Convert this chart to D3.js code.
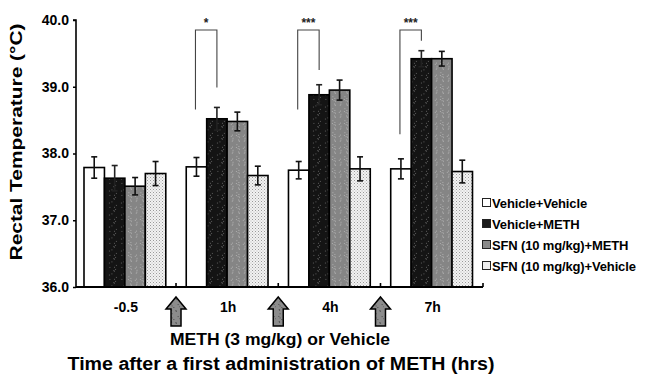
<!DOCTYPE html>
<html><head><meta charset="utf-8">
<script src="https://cdn.jsdelivr.net/npm/d3@7"></script>
<style>body{margin:0;background:#fff}svg{display:block}text{font-family:"Liberation Sans",Arial,sans-serif}</style>
</head><body>
<svg id="c" width="649" height="377"></svg>
<script>
const groups = ["-0.5", "1h", "4h", "7h"];
const seriesNames = ["Vehicle+Vehicle", "Vehicle+METH", "SFN (10 mg/kg)+METH", "SFN (10 mg/kg)+Vehicle"];
const vehVeh = [37.79, 37.80, 37.75, 37.77];
const vehMeth = [37.63, 38.52, 38.88, 39.42];
const sfnMeth = [37.51, 38.48, 38.95, 39.42];
const sfnVeh = [37.70, 37.67, 37.77, 37.73];
const vehVehErr = [0.16, 0.14, 0.13, 0.15];
const vehMethErr = [0.19, 0.17, 0.15, 0.12];
const sfnMethErr = [0.13, 0.14, 0.15, 0.11];
const sfnVehErr = [0.18, 0.14, 0.18, 0.17];
const yTicks = [36, 37, 38, 39, 40];
// significance brackets: group, left end, right end, top (°C), label
const sigGroups = ["1h", "4h", "7h"];
const sigLeft = [38.66, 38.66, 38.29];
const sigRight = [38.99, 39.25, 39.69];
const sigTop = [39.85, 39.85, 39.85];
const sigLabels = ["*", "***", "***"];

const means = [vehVeh, vehMeth, sfnMeth, sfnVeh];
const errs = [vehVehErr, vehMethErr, sfnMethErr, sfnVehErr];

const svg = d3.select("#c");
const defs = svg.append("defs");
function speckle(id, bg, dot, n, seedA) {
  const p = defs.append("pattern").attr("id", id).attr("patternUnits", "userSpaceOnUse").attr("width", 12).attr("height", 12);
  p.append("rect").attr("width", 12).attr("height", 12).attr("fill", bg);
  let s = seedA;
  for (let i = 0; i < n; i++) {
    s = (s * 9301 + 49297) % 233280; const x = (s / 233280) * 12;
    s = (s * 9301 + 49297) % 233280; const yy = (s / 233280) * 12;
    p.append("rect").attr("x", x).attr("y", yy).attr("width", 1).attr("height", 1).attr("fill", dot);
  }
}
speckle("pBlack", "#141414", "#5a5a5a", 8, 7);
speckle("pGray", "#858585", "#b0b0b0", 14, 3);
const pd = defs.append("pattern").attr("id", "pDots").attr("patternUnits", "userSpaceOnUse").attr("width", 3).attr("height", 3);
pd.append("rect").attr("width", 3).attr("height", 3).attr("fill", "#f2f2f2");
pd.append("rect").attr("x", 0).attr("y", 0).attr("width", 1).attr("height", 1).attr("fill", "#9a9a9a");
pd.append("rect").attr("x", 1.5).attr("y", 1.5).attr("width", 1).attr("height", 1).attr("fill", "#b8b8b8");
speckle("pArrow", "#8c8c8c", "#4a4a4a", 10, 11);

const fills = ["#ffffff", "url(#pBlack)", "url(#pGray)", "url(#pDots)"];
const legendFills = ["#ffffff", "#1a1a1a", "#8a8a8a", "#eeeeee"];

const axisX0 = 76, axisX1 = 483;
const y = d3.scaleLinear().domain([36, 40]).range([287, 20]);
const x0 = d3.scaleBand().domain(groups).range([84, 472.5]).paddingInner(0.2).paddingOuter(0);
const x1 = d3.scaleBand().domain(d3.range(4)).range([0, x0.bandwidth()]);

groups.forEach((g, gi) => {
  d3.range(4).forEach(si => {
    const v = means[si][gi];
    svg.append("rect")
      .attr("x", x0(g) + x1(si)).attr("y", y(v))
      .attr("width", x1.bandwidth()).attr("height", y(36) - y(v))
      .attr("fill", fills[si]).attr("stroke", "#000").attr("stroke-width", 1.6);
  });
});
groups.forEach((g, gi) => {
  d3.range(4).forEach(si => {
    const v = means[si][gi], e = errs[si][gi];
    const cx = x0(g) + x1(si) + x1.bandwidth() / 2;
    const eg = svg.append("g").attr("stroke", si === 1 ? "#222" : "#111").attr("stroke-width", 1.6);
    eg.append("line").attr("x1", cx).attr("x2", cx).attr("y1", y(v + e)).attr("y2", y(v - e));
    eg.append("line").attr("x1", cx - 3).attr("x2", cx + 3).attr("y1", y(v + e)).attr("y2", y(v + e));
    eg.append("line").attr("x1", cx - 3).attr("x2", cx + 3).attr("y1", y(v - e)).attr("y2", y(v - e));
  });
});

const yAxis = d3.axisLeft(y).tickValues(yTicks).tickFormat(d3.format(".1f")).tickSize(3).tickPadding(4);
const ya = svg.append("g").attr("transform", `translate(${axisX0},0)`).call(yAxis);
ya.select(".domain").attr("stroke-width", 1.6).attr("d", `M-3,${y(40)}H0V${y(36)}`);
ya.selectAll(".tick line").attr("stroke-width", 1.5);
ya.selectAll(".tick text").attr("font-size", 14).attr("font-weight", "bold").attr("fill", "#000").attr("font-family", "Liberation Sans, Arial, sans-serif");
svg.append("line").attr("x1", axisX0).attr("x2", axisX1).attr("y1", y(36)).attr("y2", y(36)).attr("stroke", "#000").attr("stroke-width", 2);
const betweens = groups.slice(1).map((g, i) => (x0(groups[i]) + x0.bandwidth() + x0(g)) / 2);
betweens.concat([axisX1]).forEach(bx => {
  svg.append("line").attr("x1", bx).attr("x2", bx).attr("y1", y(36)).attr("y2", y(36) - 4).attr("stroke", "#000").attr("stroke-width", 1.6);
});
groups.forEach(g => {
  svg.append("text").attr("x", x0(g) + x0.bandwidth() / 2 + 1).attr("y", 312)
    .attr("text-anchor", "middle").attr("font-size", 14).attr("font-weight", "bold").text(g);
});
betweens.forEach(bx => {
  const top = 297, headB = 309, bot = 326;
  const pts = [[bx, top], [bx + 10, headB], [bx + 5, headB], [bx + 5, bot], [bx - 5, bot], [bx - 5, headB], [bx - 10, headB]];
  svg.append("polygon").attr("points", pts.map(p => p.join(",")).join(" "))
    .attr("fill", "url(#pArrow)").attr("stroke", "#000").attr("stroke-width", 1.5).attr("stroke-linejoin", "miter");
});

sigGroups.forEach((g, i) => {
  const lx = x0(g) + x1(0) + x1.bandwidth() / 2 - 1;
  const rx = x0(g) + x1(1) + x1.bandwidth() / 2;
  svg.append("path").attr("d", `M${lx},${y(sigLeft[i])}V${y(sigTop[i])}H${rx}V${y(sigRight[i])}`)
    .attr("fill", "none").attr("stroke", "#444").attr("stroke-width", 1.1);
  svg.append("text").attr("x", (lx + rx) / 2).attr("y", 27).attr("text-anchor", "middle")
    .attr("font-size", 12).attr("font-weight", "bold").attr("fill", "#222").text(sigLabels[i]);
});

const legY = [203, 224, 245, 266];
seriesNames.forEach((n, i) => {
  svg.append("rect").attr("x", 482.5).attr("y", legY[i] - 4.5).attr("width", 8).attr("height", 8)
    .attr("fill", legendFills[i]).attr("stroke", "#222").attr("stroke-width", 1);
  svg.append("text").attr("x", 492).attr("y", legY[i] + 4.5).attr("font-size", 13).attr("font-weight", "bold")
    .attr("letter-spacing", -0.15).text(n);
});

svg.append("text").attr("transform", `translate(22,142) rotate(-90)`).attr("text-anchor", "middle")
  .attr("font-size", 17).attr("font-weight", "bold").attr("textLength", 237).attr("lengthAdjust", "spacingAndGlyphs")
  .text("Rectal Temperature (°C)");
svg.append("text").attr("x", 280).attr("y", 345).attr("text-anchor", "middle")
  .attr("font-size", 16).attr("font-weight", "bold").attr("textLength", 220).attr("lengthAdjust", "spacingAndGlyphs")
  .text("METH (3 mg/kg) or Vehicle");
svg.append("text").attr("x", 281).attr("y", 370).attr("text-anchor", "middle")
  .attr("font-size", 18).attr("font-weight", "bold").attr("textLength", 427).attr("lengthAdjust", "spacingAndGlyphs")
  .text("Time after a first administration of METH (hrs)");
</script>
</body></html>
